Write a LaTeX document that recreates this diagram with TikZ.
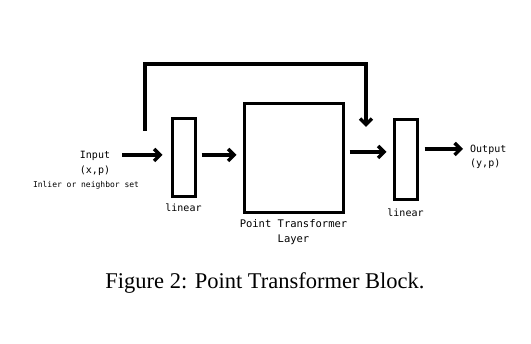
\documentclass[tikz,border=0pt]{standalone}
\usepackage{fontspec}
\setmainfont{Liberation Serif}
\setmonofont{DejaVu Sans Mono}
\usetikzlibrary{arrows.meta}

\begin{document}
\begin{tikzpicture}[x=1pt,y=-1pt,
  blk/.style={draw=black,line width=3pt,inner sep=0pt},
  flow/.style={line width=3.4pt,-{Straight Barb[length=6pt,width=12pt,line width=3.4pt]}},
  lbl/.style={font=\ttfamily\fontsize{10}{12}\selectfont,inner sep=0pt,align=center}]

\useasboundingbox[fill=white] (0,0) rectangle (531,344);

% blocks:
\node[blk,minimum width=23pt,minimum height=78pt] (lin1) at (183.5,158) {};
\node[blk,minimum width=99pt,minimum height=109pt] (ptl) at (293.5,158.5) {};
\node[blk,minimum width=23pt,minimum height=80pt] (lin2) at (405.5,160) {};

% labels:
\node[lbl] (inp) at (95,156) {Input};
\node[lbl] (inxp) at (95,171) {(x,p)};
\node[lbl,font=\ttfamily\fontsize{8}{10}\selectfont] (inset) at (86,185) {Inlier or neighbor set};
\node[lbl,anchor=north] (linlbl1) at ([yshift=-5pt]lin1.south) {linear};
\node[lbl,anchor=north,font=\ttfamily\fontsize{10.5}{15}\selectfont] (ptllbl) at ([yshift=-5pt]ptl.south) {Point Transformer\\Layer};
\node[lbl,anchor=north] (linlbl2) at ([yshift=-7pt]lin2.south) {linear};
\node[lbl,anchor=west] (outp) at (470,150) {Output};
\node[lbl,anchor=west] (outyp) at (470,164) {(y,p)};

% connectors:
\coordinate (skipa) at (145,131);
\coordinate (skipb) at (145,64);
\coordinate (skipc) at (366,64);
\coordinate (skipd) at (366,127);
\draw[flow,shorten >=8pt] ([xshift=12pt]inp.east |- 0,155) -- (lin1.west |- 0,155);
\draw[flow,shorten >=6pt,shorten <=5pt] (lin1.east |- 0,155) -- (ptl.west |- 0,155);
\draw[flow,shorten >=6pt,shorten <=5pt] (ptl.east |- 0,152) -- (lin2.west |- 0,152);
\draw[flow,shorten <=6pt] (lin2.east |- 0,149) -- ([xshift=-7pt]outp.west |- 0,149);
\draw[flow] (skipa) -- (skipb) -- (skipc) -- (skipd);

% caption:
\node[font=\fontsize{22.5}{26}\selectfont] (cap) at (265,283) {Figure 2: Point Transformer Block.};

\end{tikzpicture}
\end{document}
